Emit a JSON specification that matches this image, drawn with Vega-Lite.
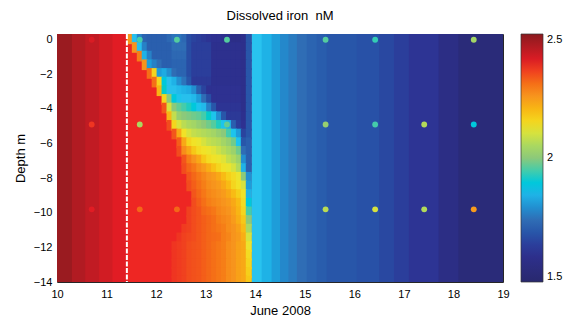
{
"$schema": "https://vega.github.io/schema/vega-lite/v6.json",
"width": 446, "height": 248,
"autosize": {"type": "none"},
"padding": {"left": 57, "top": 34, "right": 63, "bottom": 43},
"background": "white",
"title": {"text": "Dissolved iron\u00a0 nM", "fontSize": 13, "font": "Liberation Sans", "fontWeight": "normal", "offset": 10, "anchor": "middle", "color": "#000"},
"config": {
  "font": "Liberation Sans",
  "view": {"stroke": "#262626", "strokeWidth": 1},
  "axis": {"labelFont": "Liberation Sans", "labelFontSize": 11, "labelColor": "#000", "titleFont": "Liberation Sans", "titleFontSize": 13, "titleFontWeight": "normal", "titleColor": "#000", "domain": false, "grid": false, "ticks": false, "labelFlush": false}
},
"datasets": {
"bands": [{"t0":10,"t1":10.3,"v":2.48},{"t0":10.3,"t1":10.57,"v":2.45},{"t0":10.57,"t1":10.85,"v":2.43},{"t0":10.85,"t1":11.12,"v":2.41},{"t0":11.12,"t1":11.42,"v":2.39},{"t0":11.42,"t1":13.92,"v":2.37},{"t0":13.92,"t1":14.13,"v":1.875},{"t0":14.13,"t1":14.33,"v":1.85},{"t0":14.33,"t1":14.5,"v":1.82},{"t0":14.5,"t1":14.67,"v":1.79},{"t0":14.67,"t1":14.84,"v":1.77},{"t0":14.84,"t1":15.04,"v":1.75},{"t0":15.04,"t1":15.24,"v":1.73},{"t0":15.24,"t1":15.44,"v":1.715},{"t0":15.44,"t1":16.05,"v":1.7},{"t0":16.05,"t1":16.5,"v":1.69},{"t0":16.5,"t1":16.8,"v":1.67},{"t0":16.8,"t1":17.1,"v":1.65},{"t0":17.1,"t1":17.7,"v":1.63},{"t0":17.7,"t1":18.1,"v":1.58},{"t0":18.1,"t1":19,"v":1.54}],
"grid": [
{"t":11.42,"d":-0.17,"v":2.25},{"t":11.52,"d":-0.17,"v":1.87},{"t":11.62,"d":-0.17,"v":1.78},{"t":11.72,"d":-0.17,"v":1.73},{"t":11.82,"d":-0.17,"v":1.72},{"t":11.92,"d":-0.17,"v":1.72},{"t":12.02,"d":-0.17,"v":1.72},{"t":12.12,"d":-0.17,"v":1.72},{"t":12.22,"d":-0.17,"v":1.74},{"t":12.32,"d":-0.17,"v":1.76},{"t":12.42,"d":-0.17,"v":1.76},{"t":12.52,"d":-0.17,"v":1.74},{"t":12.62,"d":-0.17,"v":1.68},{"t":12.72,"d":-0.17,"v":1.66},{"t":12.82,"d":-0.17,"v":1.65},{"t":12.92,"d":-0.17,"v":1.64},{"t":13.02,"d":-0.17,"v":1.63},{"t":13.12,"d":-0.17,"v":1.62},{"t":13.22,"d":-0.17,"v":1.62},{"t":13.32,"d":-0.17,"v":1.61},{"t":13.42,"d":-0.17,"v":1.6},{"t":13.52,"d":-0.17,"v":1.59},{"t":13.62,"d":-0.17,"v":1.59},{"t":13.72,"d":-0.17,"v":1.6},{"t":13.82,"d":-0.17,"v":1.7},
{"t":11.52,"d":-0.67,"v":2.25},{"t":11.62,"d":-0.67,"v":1.87},{"t":11.72,"d":-0.67,"v":1.78},{"t":11.82,"d":-0.67,"v":1.72},{"t":11.92,"d":-0.67,"v":1.72},{"t":12.02,"d":-0.67,"v":1.72},{"t":12.12,"d":-0.67,"v":1.72},{"t":12.22,"d":-0.67,"v":1.72},{"t":12.32,"d":-0.67,"v":1.75},{"t":12.42,"d":-0.67,"v":1.75},{"t":12.52,"d":-0.67,"v":1.75},{"t":12.62,"d":-0.67,"v":1.68},{"t":12.72,"d":-0.67,"v":1.65},{"t":12.82,"d":-0.67,"v":1.65},{"t":12.92,"d":-0.67,"v":1.65},{"t":13.02,"d":-0.67,"v":1.65},{"t":13.12,"d":-0.67,"v":1.61},{"t":13.22,"d":-0.67,"v":1.61},{"t":13.32,"d":-0.67,"v":1.61},{"t":13.42,"d":-0.67,"v":1.61},{"t":13.52,"d":-0.67,"v":1.61},{"t":13.62,"d":-0.67,"v":1.61},{"t":13.72,"d":-0.67,"v":1.6},{"t":13.82,"d":-0.67,"v":1.7},
{"t":11.62,"d":-1.17,"v":2.28},{"t":11.72,"d":-1.17,"v":1.85},{"t":11.82,"d":-1.17,"v":1.78},{"t":11.92,"d":-1.17,"v":1.72},{"t":12.02,"d":-1.17,"v":1.72},{"t":12.12,"d":-1.17,"v":1.72},{"t":12.22,"d":-1.17,"v":1.72},{"t":12.32,"d":-1.17,"v":1.74},{"t":12.42,"d":-1.17,"v":1.74},{"t":12.52,"d":-1.17,"v":1.74},{"t":12.62,"d":-1.17,"v":1.68},{"t":12.72,"d":-1.17,"v":1.65},{"t":12.82,"d":-1.17,"v":1.65},{"t":12.92,"d":-1.17,"v":1.65},{"t":13.02,"d":-1.17,"v":1.65},{"t":13.12,"d":-1.17,"v":1.61},{"t":13.22,"d":-1.17,"v":1.61},{"t":13.32,"d":-1.17,"v":1.61},{"t":13.42,"d":-1.17,"v":1.61},{"t":13.52,"d":-1.17,"v":1.61},{"t":13.62,"d":-1.17,"v":1.61},{"t":13.72,"d":-1.17,"v":1.6},{"t":13.82,"d":-1.17,"v":1.7},
{"t":11.72,"d":-1.67,"v":2.25},{"t":11.82,"d":-1.67,"v":1.82},{"t":11.92,"d":-1.67,"v":1.78},{"t":12.02,"d":-1.67,"v":1.75},{"t":12.12,"d":-1.67,"v":1.72},{"t":12.22,"d":-1.67,"v":1.72},{"t":12.32,"d":-1.67,"v":1.73},{"t":12.42,"d":-1.67,"v":1.73},{"t":12.52,"d":-1.67,"v":1.73},{"t":12.62,"d":-1.67,"v":1.68},{"t":12.72,"d":-1.67,"v":1.65},{"t":12.82,"d":-1.67,"v":1.65},{"t":12.92,"d":-1.67,"v":1.65},{"t":13.02,"d":-1.67,"v":1.65},{"t":13.12,"d":-1.67,"v":1.61},{"t":13.22,"d":-1.67,"v":1.61},{"t":13.32,"d":-1.67,"v":1.61},{"t":13.42,"d":-1.67,"v":1.61},{"t":13.52,"d":-1.67,"v":1.61},{"t":13.62,"d":-1.67,"v":1.61},{"t":13.72,"d":-1.67,"v":1.6},{"t":13.82,"d":-1.67,"v":1.7},
{"t":11.82,"d":-2.17,"v":2.3},{"t":11.92,"d":-2.17,"v":2.15},{"t":12.02,"d":-2.17,"v":1.82},{"t":12.12,"d":-2.17,"v":1.84},{"t":12.22,"d":-2.17,"v":1.8},{"t":12.32,"d":-2.17,"v":1.75},{"t":12.42,"d":-2.17,"v":1.73},{"t":12.52,"d":-2.17,"v":1.73},{"t":12.62,"d":-2.17,"v":1.68},{"t":12.72,"d":-2.17,"v":1.65},{"t":12.82,"d":-2.17,"v":1.65},{"t":12.92,"d":-2.17,"v":1.65},{"t":13.02,"d":-2.17,"v":1.65},{"t":13.12,"d":-2.17,"v":1.61},{"t":13.22,"d":-2.17,"v":1.61},{"t":13.32,"d":-2.17,"v":1.61},{"t":13.42,"d":-2.17,"v":1.61},{"t":13.52,"d":-2.17,"v":1.61},{"t":13.62,"d":-2.17,"v":1.61},{"t":13.72,"d":-2.17,"v":1.6},{"t":13.82,"d":-2.17,"v":1.7},
{"t":11.92,"d":-2.67,"v":2.3},{"t":12.02,"d":-2.67,"v":2.15},{"t":12.12,"d":-2.67,"v":1.9},{"t":12.22,"d":-2.67,"v":1.87},{"t":12.32,"d":-2.67,"v":1.85},{"t":12.42,"d":-2.67,"v":1.8},{"t":12.52,"d":-2.67,"v":1.76},{"t":12.62,"d":-2.67,"v":1.7},{"t":12.72,"d":-2.67,"v":1.64},{"t":12.82,"d":-2.67,"v":1.64},{"t":12.92,"d":-2.67,"v":1.64},{"t":13.02,"d":-2.67,"v":1.64},{"t":13.12,"d":-2.67,"v":1.61},{"t":13.22,"d":-2.67,"v":1.61},{"t":13.32,"d":-2.67,"v":1.61},{"t":13.42,"d":-2.67,"v":1.61},{"t":13.52,"d":-2.67,"v":1.61},{"t":13.62,"d":-2.67,"v":1.61},{"t":13.72,"d":-2.67,"v":1.6},{"t":13.82,"d":-2.67,"v":1.7},
{"t":12.02,"d":-3.17,"v":2.2},{"t":12.12,"d":-3.17,"v":1.92},{"t":12.22,"d":-3.17,"v":1.87},{"t":12.32,"d":-3.17,"v":1.87},{"t":12.42,"d":-3.17,"v":1.86},{"t":12.52,"d":-3.17,"v":1.85},{"t":12.62,"d":-3.17,"v":1.84},{"t":12.72,"d":-3.17,"v":1.8},{"t":12.82,"d":-3.17,"v":1.72},{"t":12.92,"d":-3.17,"v":1.66},{"t":13.02,"d":-3.17,"v":1.62},{"t":13.12,"d":-3.17,"v":1.62},{"t":13.22,"d":-3.17,"v":1.62},{"t":13.32,"d":-3.17,"v":1.62},{"t":13.42,"d":-3.17,"v":1.62},{"t":13.52,"d":-3.17,"v":1.62},{"t":13.62,"d":-3.17,"v":1.62},{"t":13.72,"d":-3.17,"v":1.6},{"t":13.82,"d":-3.17,"v":1.7},
{"t":12.12,"d":-3.67,"v":2.15},{"t":12.22,"d":-3.67,"v":2.0},{"t":12.32,"d":-3.67,"v":1.9},{"t":12.42,"d":-3.67,"v":1.88},{"t":12.52,"d":-3.67,"v":1.87},{"t":12.62,"d":-3.67,"v":1.87},{"t":12.72,"d":-3.67,"v":1.86},{"t":12.82,"d":-3.67,"v":1.82},{"t":12.92,"d":-3.67,"v":1.75},{"t":13.02,"d":-3.67,"v":1.68},{"t":13.12,"d":-3.67,"v":1.62},{"t":13.22,"d":-3.67,"v":1.62},{"t":13.32,"d":-3.67,"v":1.62},{"t":13.42,"d":-3.67,"v":1.62},{"t":13.52,"d":-3.67,"v":1.62},{"t":13.62,"d":-3.67,"v":1.62},{"t":13.72,"d":-3.67,"v":1.6},{"t":13.82,"d":-3.67,"v":1.7},
{"t":12.12,"d":-4.17,"v":2.33},{"t":12.22,"d":-4.17,"v":2.1},{"t":12.32,"d":-4.17,"v":2.0},{"t":12.42,"d":-4.17,"v":1.97},{"t":12.52,"d":-4.17,"v":1.95},{"t":12.62,"d":-4.17,"v":1.93},{"t":12.72,"d":-4.17,"v":1.9},{"t":12.82,"d":-4.17,"v":1.88},{"t":12.92,"d":-4.17,"v":1.86},{"t":13.02,"d":-4.17,"v":1.78},{"t":13.12,"d":-4.17,"v":1.7},{"t":13.22,"d":-4.17,"v":1.63},{"t":13.32,"d":-4.17,"v":1.63},{"t":13.42,"d":-4.17,"v":1.63},{"t":13.52,"d":-4.17,"v":1.63},{"t":13.62,"d":-4.17,"v":1.63},{"t":13.72,"d":-4.17,"v":1.6},{"t":13.82,"d":-4.17,"v":1.7},
{"t":12.22,"d":-4.67,"v":2.2},{"t":12.32,"d":-4.67,"v":2.08},{"t":12.42,"d":-4.67,"v":2.02},{"t":12.52,"d":-4.67,"v":2.0},{"t":12.62,"d":-4.67,"v":1.99},{"t":12.72,"d":-4.67,"v":1.98},{"t":12.82,"d":-4.67,"v":1.97},{"t":12.92,"d":-4.67,"v":1.95},{"t":13.02,"d":-4.67,"v":1.92},{"t":13.12,"d":-4.67,"v":1.88},{"t":13.22,"d":-4.67,"v":1.8},{"t":13.32,"d":-4.67,"v":1.7},{"t":13.42,"d":-4.67,"v":1.64},{"t":13.52,"d":-4.67,"v":1.64},{"t":13.62,"d":-4.67,"v":1.64},{"t":13.72,"d":-4.67,"v":1.61},{"t":13.82,"d":-4.67,"v":1.7},
{"t":12.22,"d":-5.17,"v":2.34},{"t":12.32,"d":-5.17,"v":2.15},{"t":12.42,"d":-5.17,"v":2.1},{"t":12.52,"d":-5.17,"v":2.07},{"t":12.62,"d":-5.17,"v":2.05},{"t":12.72,"d":-5.17,"v":2.04},{"t":12.82,"d":-5.17,"v":2.02},{"t":12.92,"d":-5.17,"v":2.0},{"t":13.02,"d":-5.17,"v":1.98},{"t":13.12,"d":-5.17,"v":1.96},{"t":13.22,"d":-5.17,"v":1.93},{"t":13.32,"d":-5.17,"v":1.88},{"t":13.42,"d":-5.17,"v":1.85},{"t":13.52,"d":-5.17,"v":1.72},{"t":13.62,"d":-5.17,"v":1.65},{"t":13.72,"d":-5.17,"v":1.62},{"t":13.82,"d":-5.17,"v":1.7},
{"t":12.32,"d":-5.67,"v":2.33},{"t":12.42,"d":-5.67,"v":2.22},{"t":12.52,"d":-5.67,"v":2.13},{"t":12.62,"d":-5.67,"v":2.1},{"t":12.72,"d":-5.67,"v":2.08},{"t":12.82,"d":-5.67,"v":2.07},{"t":12.92,"d":-5.67,"v":2.06},{"t":13.02,"d":-5.67,"v":2.05},{"t":13.12,"d":-5.67,"v":2.04},{"t":13.22,"d":-5.67,"v":2.02},{"t":13.32,"d":-5.67,"v":2.0},{"t":13.42,"d":-5.67,"v":1.95},{"t":13.52,"d":-5.67,"v":1.88},{"t":13.62,"d":-5.67,"v":1.82},{"t":13.72,"d":-5.67,"v":1.66},{"t":13.82,"d":-5.67,"v":1.7},
{"t":12.42,"d":-6.17,"v":2.32},{"t":12.52,"d":-6.17,"v":2.22},{"t":12.62,"d":-6.17,"v":2.15},{"t":12.72,"d":-6.17,"v":2.13},{"t":12.82,"d":-6.17,"v":2.12},{"t":12.92,"d":-6.17,"v":2.1},{"t":13.02,"d":-6.17,"v":2.08},{"t":13.12,"d":-6.17,"v":2.07},{"t":13.22,"d":-6.17,"v":2.06},{"t":13.32,"d":-6.17,"v":2.04},{"t":13.42,"d":-6.17,"v":2.02},{"t":13.52,"d":-6.17,"v":1.98},{"t":13.62,"d":-6.17,"v":1.88},{"t":13.72,"d":-6.17,"v":1.7},{"t":13.82,"d":-6.17,"v":1.72},
{"t":12.42,"d":-6.67,"v":2.34},{"t":12.52,"d":-6.67,"v":2.26},{"t":12.62,"d":-6.67,"v":2.22},{"t":12.72,"d":-6.67,"v":2.17},{"t":12.82,"d":-6.67,"v":2.14},{"t":12.92,"d":-6.67,"v":2.13},{"t":13.02,"d":-6.67,"v":2.12},{"t":13.12,"d":-6.67,"v":2.11},{"t":13.22,"d":-6.67,"v":2.09},{"t":13.32,"d":-6.67,"v":2.07},{"t":13.42,"d":-6.67,"v":2.05},{"t":13.52,"d":-6.67,"v":2.03},{"t":13.62,"d":-6.67,"v":1.98},{"t":13.72,"d":-6.67,"v":1.75},{"t":13.82,"d":-6.67,"v":1.72},
{"t":12.52,"d":-7.17,"v":2.33},{"t":12.62,"d":-7.17,"v":2.28},{"t":12.72,"d":-7.17,"v":2.25},{"t":12.82,"d":-7.17,"v":2.22},{"t":12.92,"d":-7.17,"v":2.17},{"t":13.02,"d":-7.17,"v":2.14},{"t":13.12,"d":-7.17,"v":2.13},{"t":13.22,"d":-7.17,"v":2.12},{"t":13.32,"d":-7.17,"v":2.11},{"t":13.42,"d":-7.17,"v":2.08},{"t":13.52,"d":-7.17,"v":2.06},{"t":13.62,"d":-7.17,"v":2.03},{"t":13.72,"d":-7.17,"v":1.8},{"t":13.82,"d":-7.17,"v":1.72},
{"t":12.52,"d":-7.67,"v":2.34},{"t":12.62,"d":-7.67,"v":2.31},{"t":12.72,"d":-7.67,"v":2.29},{"t":12.82,"d":-7.67,"v":2.26},{"t":12.92,"d":-7.67,"v":2.24},{"t":13.02,"d":-7.67,"v":2.21},{"t":13.12,"d":-7.67,"v":2.18},{"t":13.22,"d":-7.67,"v":2.15},{"t":13.32,"d":-7.67,"v":2.13},{"t":13.42,"d":-7.67,"v":2.12},{"t":13.52,"d":-7.67,"v":2.1},{"t":13.62,"d":-7.67,"v":2.06},{"t":13.72,"d":-7.67,"v":1.85},{"t":13.82,"d":-7.67,"v":1.72},
{"t":12.62,"d":-8.17,"v":2.33},{"t":12.72,"d":-8.17,"v":2.31},{"t":12.82,"d":-8.17,"v":2.29},{"t":12.92,"d":-8.17,"v":2.27},{"t":13.02,"d":-8.17,"v":2.25},{"t":13.12,"d":-8.17,"v":2.24},{"t":13.22,"d":-8.17,"v":2.22},{"t":13.32,"d":-8.17,"v":2.19},{"t":13.42,"d":-8.17,"v":2.16},{"t":13.52,"d":-8.17,"v":2.14},{"t":13.62,"d":-8.17,"v":2.12},{"t":13.72,"d":-8.17,"v":2.0},{"t":13.82,"d":-8.17,"v":1.8},
{"t":12.62,"d":-8.67,"v":2.34},{"t":12.72,"d":-8.67,"v":2.32},{"t":12.82,"d":-8.67,"v":2.3},{"t":12.92,"d":-8.67,"v":2.28},{"t":13.02,"d":-8.67,"v":2.26},{"t":13.12,"d":-8.67,"v":2.25},{"t":13.22,"d":-8.67,"v":2.24},{"t":13.32,"d":-8.67,"v":2.22},{"t":13.42,"d":-8.67,"v":2.19},{"t":13.52,"d":-8.67,"v":2.15},{"t":13.62,"d":-8.67,"v":2.13},{"t":13.72,"d":-8.67,"v":2.1},{"t":13.82,"d":-8.67,"v":1.82},
{"t":12.72,"d":-9.17,"v":2.33},{"t":12.82,"d":-9.17,"v":2.31},{"t":12.92,"d":-9.17,"v":2.29},{"t":13.02,"d":-9.17,"v":2.27},{"t":13.12,"d":-9.17,"v":2.26},{"t":13.22,"d":-9.17,"v":2.25},{"t":13.32,"d":-9.17,"v":2.24},{"t":13.42,"d":-9.17,"v":2.22},{"t":13.52,"d":-9.17,"v":2.19},{"t":13.62,"d":-9.17,"v":2.16},{"t":13.72,"d":-9.17,"v":2.13},{"t":13.82,"d":-9.17,"v":1.85},
{"t":12.72,"d":-9.67,"v":2.34},{"t":12.82,"d":-9.67,"v":2.32},{"t":12.92,"d":-9.67,"v":2.3},{"t":13.02,"d":-9.67,"v":2.28},{"t":13.12,"d":-9.67,"v":2.27},{"t":13.22,"d":-9.67,"v":2.26},{"t":13.32,"d":-9.67,"v":2.25},{"t":13.42,"d":-9.67,"v":2.24},{"t":13.52,"d":-9.67,"v":2.22},{"t":13.62,"d":-9.67,"v":2.19},{"t":13.72,"d":-9.67,"v":2.14},{"t":13.82,"d":-9.67,"v":1.9},
{"t":12.62,"d":-10.17,"v":2.35},{"t":12.72,"d":-10.17,"v":2.34},{"t":12.82,"d":-10.17,"v":2.33},{"t":12.92,"d":-10.17,"v":2.31},{"t":13.02,"d":-10.17,"v":2.3},{"t":13.12,"d":-10.17,"v":2.29},{"t":13.22,"d":-10.17,"v":2.27},{"t":13.32,"d":-10.17,"v":2.26},{"t":13.42,"d":-10.17,"v":2.25},{"t":13.52,"d":-10.17,"v":2.23},{"t":13.62,"d":-10.17,"v":2.2},{"t":13.72,"d":-10.17,"v":2.15},{"t":13.82,"d":-10.17,"v":1.95},
{"t":12.62,"d":-10.67,"v":2.35},{"t":12.72,"d":-10.67,"v":2.34},{"t":12.82,"d":-10.67,"v":2.33},{"t":12.92,"d":-10.67,"v":2.32},{"t":13.02,"d":-10.67,"v":2.31},{"t":13.12,"d":-10.67,"v":2.3},{"t":13.22,"d":-10.67,"v":2.28},{"t":13.32,"d":-10.67,"v":2.27},{"t":13.42,"d":-10.67,"v":2.26},{"t":13.52,"d":-10.67,"v":2.24},{"t":13.62,"d":-10.67,"v":2.21},{"t":13.72,"d":-10.67,"v":2.17},{"t":13.82,"d":-10.67,"v":2.0},
{"t":12.52,"d":-11.17,"v":2.355},{"t":12.62,"d":-11.17,"v":2.35},{"t":12.72,"d":-11.17,"v":2.34},{"t":12.82,"d":-11.17,"v":2.33},{"t":12.92,"d":-11.17,"v":2.32},{"t":13.02,"d":-11.17,"v":2.31},{"t":13.12,"d":-11.17,"v":2.3},{"t":13.22,"d":-11.17,"v":2.29},{"t":13.32,"d":-11.17,"v":2.28},{"t":13.42,"d":-11.17,"v":2.26},{"t":13.52,"d":-11.17,"v":2.25},{"t":13.62,"d":-11.17,"v":2.23},{"t":13.72,"d":-11.17,"v":2.19},{"t":13.82,"d":-11.17,"v":2.05},
{"t":12.42,"d":-11.67,"v":2.36},{"t":12.52,"d":-11.67,"v":2.35},{"t":12.62,"d":-11.67,"v":2.345},{"t":12.72,"d":-11.67,"v":2.34},{"t":12.82,"d":-11.67,"v":2.33},{"t":12.92,"d":-11.67,"v":2.32},{"t":13.02,"d":-11.67,"v":2.31},{"t":13.12,"d":-11.67,"v":2.305},{"t":13.22,"d":-11.67,"v":2.3},{"t":13.32,"d":-11.67,"v":2.28},{"t":13.42,"d":-11.67,"v":2.27},{"t":13.52,"d":-11.67,"v":2.25},{"t":13.62,"d":-11.67,"v":2.24},{"t":13.72,"d":-11.67,"v":2.21},{"t":13.82,"d":-11.67,"v":2.1},
{"t":12.32,"d":-12.17,"v":2.36},{"t":12.42,"d":-12.17,"v":2.355},{"t":12.52,"d":-12.17,"v":2.35},{"t":12.62,"d":-12.17,"v":2.34},{"t":12.72,"d":-12.17,"v":2.335},{"t":12.82,"d":-12.17,"v":2.33},{"t":12.92,"d":-12.17,"v":2.32},{"t":13.02,"d":-12.17,"v":2.31},{"t":13.12,"d":-12.17,"v":2.3},{"t":13.22,"d":-12.17,"v":2.29},{"t":13.32,"d":-12.17,"v":2.28},{"t":13.42,"d":-12.17,"v":2.26},{"t":13.52,"d":-12.17,"v":2.25},{"t":13.62,"d":-12.17,"v":2.23},{"t":13.72,"d":-12.17,"v":2.22},{"t":13.82,"d":-12.17,"v":2.12},
{"t":12.32,"d":-12.67,"v":2.36},{"t":12.42,"d":-12.67,"v":2.355},{"t":12.52,"d":-12.67,"v":2.35},{"t":12.62,"d":-12.67,"v":2.34},{"t":12.72,"d":-12.67,"v":2.335},{"t":12.82,"d":-12.67,"v":2.33},{"t":12.92,"d":-12.67,"v":2.32},{"t":13.02,"d":-12.67,"v":2.31},{"t":13.12,"d":-12.67,"v":2.3},{"t":13.22,"d":-12.67,"v":2.29},{"t":13.32,"d":-12.67,"v":2.28},{"t":13.42,"d":-12.67,"v":2.26},{"t":13.52,"d":-12.67,"v":2.25},{"t":13.62,"d":-12.67,"v":2.23},{"t":13.72,"d":-12.67,"v":2.22},{"t":13.82,"d":-12.67,"v":2.14},
{"t":12.32,"d":-13.17,"v":2.36},{"t":12.42,"d":-13.17,"v":2.355},{"t":12.52,"d":-13.17,"v":2.35},{"t":12.62,"d":-13.17,"v":2.34},{"t":12.72,"d":-13.17,"v":2.335},{"t":12.82,"d":-13.17,"v":2.33},{"t":12.92,"d":-13.17,"v":2.32},{"t":13.02,"d":-13.17,"v":2.31},{"t":13.12,"d":-13.17,"v":2.3},{"t":13.22,"d":-13.17,"v":2.29},{"t":13.32,"d":-13.17,"v":2.28},{"t":13.42,"d":-13.17,"v":2.26},{"t":13.52,"d":-13.17,"v":2.25},{"t":13.62,"d":-13.17,"v":2.23},{"t":13.72,"d":-13.17,"v":2.22},{"t":13.82,"d":-13.17,"v":2.15},
{"t":12.32,"d":-13.67,"v":2.36},{"t":12.42,"d":-13.67,"v":2.355},{"t":12.52,"d":-13.67,"v":2.35},{"t":12.62,"d":-13.67,"v":2.34},{"t":12.72,"d":-13.67,"v":2.335},{"t":12.82,"d":-13.67,"v":2.33},{"t":12.92,"d":-13.67,"v":2.32},{"t":13.02,"d":-13.67,"v":2.31},{"t":13.12,"d":-13.67,"v":2.3},{"t":13.22,"d":-13.67,"v":2.29},{"t":13.32,"d":-13.67,"v":2.28},{"t":13.42,"d":-13.67,"v":2.26},{"t":13.52,"d":-13.67,"v":2.25},{"t":13.62,"d":-13.67,"v":2.23},{"t":13.72,"d":-13.67,"v":2.22},{"t":13.82,"d":-13.67,"v":2.16},
{"t":12.32,"d":-14.17,"v":2.36},{"t":12.42,"d":-14.17,"v":2.355},{"t":12.52,"d":-14.17,"v":2.35},{"t":12.62,"d":-14.17,"v":2.34},{"t":12.72,"d":-14.17,"v":2.335},{"t":12.82,"d":-14.17,"v":2.33},{"t":12.92,"d":-14.17,"v":2.32},{"t":13.02,"d":-14.17,"v":2.31},{"t":13.12,"d":-14.17,"v":2.3},{"t":13.22,"d":-14.17,"v":2.29},{"t":13.32,"d":-14.17,"v":2.28},{"t":13.42,"d":-14.17,"v":2.26},{"t":13.52,"d":-14.17,"v":2.25},{"t":13.62,"d":-14.17,"v":2.23},{"t":13.72,"d":-14.17,"v":2.22},{"t":13.82,"d":-14.17,"v":2.17}
],
"obs": [
{"t":10.7,"d":0,"v":2.4},{"t":11.67,"d":0,"v":1.95},{"t":12.42,"d":0,"v":1.96},{"t":13.43,"d":0,"v":1.96},{"t":15.42,"d":0,"v":1.96},{"t":16.42,"d":0,"v":1.94},{"t":18.41,"d":0,"v":2.04},
{"t":10.7,"d":-4.9,"v":2.36},{"t":11.67,"d":-4.9,"v":2.05},{"t":13.43,"d":-4.9,"v":1.97},{"t":15.42,"d":-4.9,"v":2.02},{"t":16.42,"d":-4.9,"v":1.95},{"t":17.41,"d":-4.9,"v":2.06},{"t":18.41,"d":-4.9,"v":1.9},
{"t":10.7,"d":-9.8,"v":2.39},{"t":11.67,"d":-9.8,"v":2.31},{"t":12.42,"d":-9.8,"v":2.31},{"t":15.42,"d":-9.8,"v":2.07},{"t":16.42,"d":-9.8,"v":2.1},{"t":17.41,"d":-9.8,"v":2.06},{"t":18.41,"d":-9.8,"v":2.24}
]
},
"layer": [
{
  "data": {"name": "bands"},
  "mark": {"type": "rect", "clip": true, "x2Offset": 1},
  "encoding": {
    "x": {"field": "t0", "type": "quantitative", "title": "June 2008",
          "scale": {"domain": [10, 19], "nice": false, "zero": false},
          "axis": {"values": [10,11,12,13,14,15,16,17,18,19], "format": "d", "labelPadding": 6, "titlePadding": 5}},
    "x2": {"field": "t1"},
    "color": {"field": "v", "type": "quantitative",
      "scale": {"type": "linear", "domain": [1.5,1.625,1.75,1.875,2.0,2.125,2.25,2.375,2.5],
                "range": ["#28286e","#2e3192","#2f6db5","#29c3ef","#8cc97a","#f0e52a","#f7941d","#ed1c24","#8b1a1e"], "clamp": true},
      "legend": {"type": "gradient", "orient": "right", "offset": 18, "direction": "vertical", "title": null, "gradientLength": 248, "gradientThickness": 22,
                 "values": [1.5, 2, 2.5], "labelExpr": "datum.value == 2 ? '2' : format(datum.value, '.1f')",
                 "labelFontSize": 11, "labelFont": "Liberation Sans", "labelColor": "#000",
                 "gradientStrokeColor": "#333", "gradientStrokeWidth": 0.7, "labelOffset": 4, "padding": 0}}
  }
},
{
  "data": {"name": "grid"},
  "mark": {"type": "rect", "clip": true, "x2Offset": -1, "y2Offset": 1, "yOffset": -1},
  "encoding": {
    "x": {"field": "t", "type": "quantitative", "bin": {"binned": true, "step": 0.1}, "title": "June 2008"},
    "y": {"field": "d", "type": "quantitative", "bin": {"binned": true, "step": 0.5}, "title": "Depth m",
          "scale": {"domain": [-14, 0.33], "nice": false, "zero": false},
          "axis": {"values": [-14,-12,-10,-8,-6,-4,-2,0], "format": "d", "labelPadding": 5, "titlePadding": 6}},
    "color": {"field": "v", "type": "quantitative"}
  }
},
{
  "data": {"values": [{"t": 11.41}]},
  "mark": {"type": "rule", "color": "white", "strokeWidth": 2, "strokeDash": [5, 1.5]},
  "encoding": {"x": {"field": "t", "type": "quantitative", "title": "June 2008"}}
},
{
  "data": {"name": "obs"},
  "mark": {"type": "point", "filled": true, "shape": "circle", "size": 34, "opacity": 1, "strokeWidth": 0},
  "encoding": {
    "x": {"field": "t", "type": "quantitative", "title": "June 2008"},
    "y": {"field": "d", "type": "quantitative", "title": "Depth m"},
    "color": {"field": "v", "type": "quantitative"}
  }
}
]
}
